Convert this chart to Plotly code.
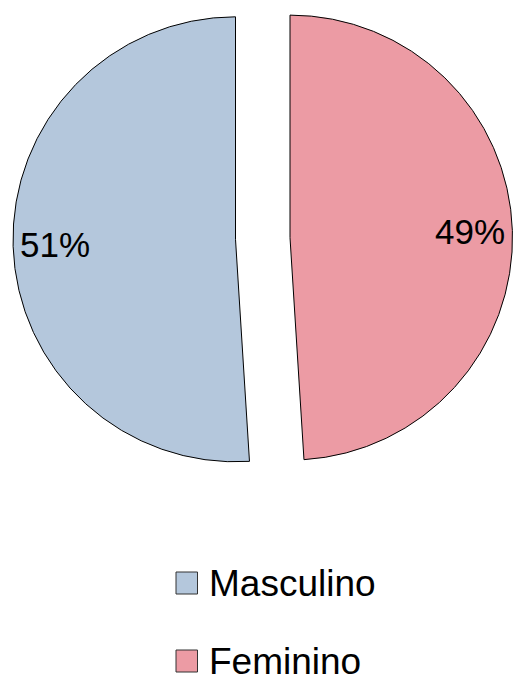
import math
import plotly.graph_objects as go

labels = ["Masculino", "Feminino"]
values = [51, 49]
colors = ["#b4c7dc", "#ec9ba4"]

W, H = 513, 675
R = 222.5
# the pie is drawn clockwise from 12 o'clock starting with Feminino
order = [1, 0]
# centres (px) of the two exploded halves, Masculino first
centres = {0: (235.5, 239.3), 1: (290.0, 237.6)}

pl = [labels[k] for k in order]
pv = [values[k] for k in order]
pc = [colors[k] for k in order]
total = sum(values)

fig = go.Figure()
start = 0.0
for pos, k in enumerate(order):
    cx, cy = centres[k]
    fill = [c if j == pos else "rgba(0,0,0,0)" for j, c in enumerate(pc)]
    lcol = ["black" if j == pos else "rgba(0,0,0,0)" for j in range(len(pc))]
    x0, x1 = max(0, (cx - R) / W), min(1, (cx + R) / W)
    y0, y1 = 1 - (cy + R) / H, 1 - (cy - R) / H
    fig.add_trace(go.Pie(
        labels=pl, values=pv, sort=False, direction="clockwise", rotation=0,
        marker=dict(colors=fill, line=dict(color=lcol, width=1)),
        textinfo="none",
        domain=dict(x=[x0, x1], y=[y0, y1]),
        showlegend=False, hoverinfo="label+percent",
    ))
    # percentage label placed along the slice's mid-angle
    frac = values[k] / total
    mid = (start + frac / 2) * 2 * math.pi
    start += frac
    tx = cx + 0.81 * R * math.sin(mid)
    ty = cy - 0.81 * R * math.cos(mid)
    fig.add_annotation(text=f"{round(100 * frac)}%", xref="paper", yref="paper",
                       x=tx / W, y=1 - ty / H, xanchor="center", yanchor="middle",
                       showarrow=False,
                       font=dict(family="Liberation Sans", size=35, color="black"))

# legend
leg_y = [583, 661]
for lab, col, yc in zip(labels, colors, leg_y):
    fig.add_shape(type="rect", xref="paper", yref="paper",
                  x0=176 / W, x1=197.5 / W, y0=1 - (yc + 11) / H, y1=1 - (yc - 11) / H,
                  fillcolor=col, line=dict(color="#333333", width=1))
    fig.add_annotation(text=lab, xref="paper", yref="paper", x=207 / W, y=1 - yc / H,
                       xanchor="left", yanchor="middle", showarrow=False,
                       font=dict(family="Liberation Sans", size=37, color="black"))

fig.update_layout(width=W, height=H, margin=dict(l=0, r=0, t=0, b=0),
                  paper_bgcolor="white", plot_bgcolor="white")
fig.write_html("out.html", config={"displayModeBar": False},
               post_script="document.body.style.margin='0';")
